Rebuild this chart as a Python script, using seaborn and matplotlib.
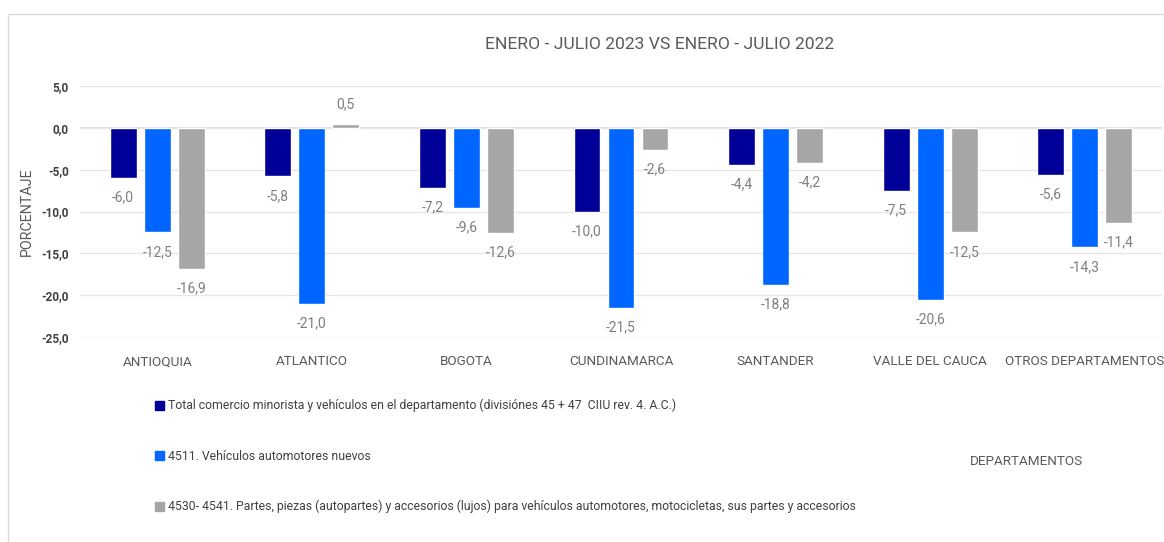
import matplotlib
matplotlib.use("Agg")
import matplotlib.pyplot as plt
import matplotlib.patches as mpatches
import pandas as pd
import seaborn as sns

# data
departamentos = ["ANTIOQUIA", "ATLANTICO", "BOGOTA", "CUNDINAMARCA",
                 "SANTANDER", "VALLE DEL CAUCA", "OTROS DEPARTAMENTOS"]
series = ["Total comercio minorista y vehículos en el departamento (divisiónes 45 + 47  CIIU rev. 4. A.C.)",
          "4511. Vehículos automotores nuevos",
          "4530- 4541. Partes, piezas (autopartes) y accesorios (lujos) para vehículos automotores, motocicletas, sus partes y accesorios"]
total = [-6.0, -5.8, -7.2, -10.0, -4.4, -7.5, -5.6]
nuevos = [-12.5, -21.0, -9.6, -21.5, -18.8, -20.6, -14.3]
partes = [-16.9, 0.5, -12.6, -2.6, -4.2, -12.5, -11.4]
yticks = [5, 0, -5, -10, -15, -20, -25]
colores = ["#000099", "#0066FF", "#A6A6A6"]

rows = []
for serie, vals in zip(series, [total, nuevos, partes]):
    for dep, v in zip(departamentos, vals):
        rows.append({"dep": dep, "serie": serie, "valor": v})
df = pd.DataFrame(rows)

sns.set_style("white")
plt.rcParams["font.family"] = ["Roboto", "DejaVu Sans"]

fig = plt.figure(figsize=(11.64, 5.42), dpi=100)
ax = fig.add_axes([0.0687, 0.3782, 0.9296, 0.4631])

sns.barplot(data=df, x="dep", y="valor", hue="serie", palette=colores,
            width=0.66, gap=0.21, saturation=1, ax=ax, legend=False)

# data labels below (or above) the bar ends
gris = "#7F7F7F"
for cont in ax.containers:
    for bar in cont:
        h = bar.get_height()
        x = bar.get_x() + bar.get_width() / 2
        off = -14 if h < 0 else 14
        ax.annotate(f"{h:.1f}".replace(".", ","), (x, h), xytext=(0, off),
                    textcoords="offset points", ha="center", va="center",
                    fontsize=10, color=gris)

ax.set_ylim(-25, 5)
ax.set_yticks(yticks)
ax.set_yticklabels([f"{t:.1f}".replace(".", ",") for t in yticks],
                   fontsize=8.5, color="#404040", fontweight="bold")
ax.set_xlim(-0.5, 6.5)
ax.grid(axis="y", color="#E6E6E6", linewidth=1)
ax.axhline(0, color="#D9D9D9", linewidth=1.2, zorder=0.5)
ax.set_axisbelow(True)
for s in ax.spines.values():
    s.set_visible(False)
ax.tick_params(axis="x", labelsize=9.7, labelcolor="#595959", length=0, pad=13)
ax.tick_params(axis="y", length=0, pad=8)
ax.set_xlabel("")
ax.set_ylabel("PORCENTAJE", fontsize=10.3, color="#595959")
ax.yaxis.set_label_coords(-0.043, 0.5)

fig.text(0.567, 0.917, "ENERO - JULIO 2023 VS ENERO - JULIO 2022",
         ha="center", va="center", fontsize=12.6, color="#595959")
fig.text(0.882, 0.149, "DEPARTAMENTOS", ha="center", va="center",
         fontsize=9.7, color="#595959")

handles = [mpatches.Patch(color=c, label=s) for c, s in zip(colores, series)]
leg = fig.legend(handles=handles, loc="upper left", bbox_to_anchor=(0.129, 0.273),
                 frameon=False, fontsize=8.8, labelspacing=3.05,
                 handlelength=0.75, handleheight=0.75, handletextpad=0.3,
                 borderaxespad=0, labelcolor="#404040")

# light border around the chart area
fig.patches.append(mpatches.Rectangle((0.007, -0.01), 1.0, 0.984,
                                      transform=fig.transFigure, fill=False,
                                      edgecolor="#D9D9D9", linewidth=1))

fig.savefig("out.png", dpi=100)
